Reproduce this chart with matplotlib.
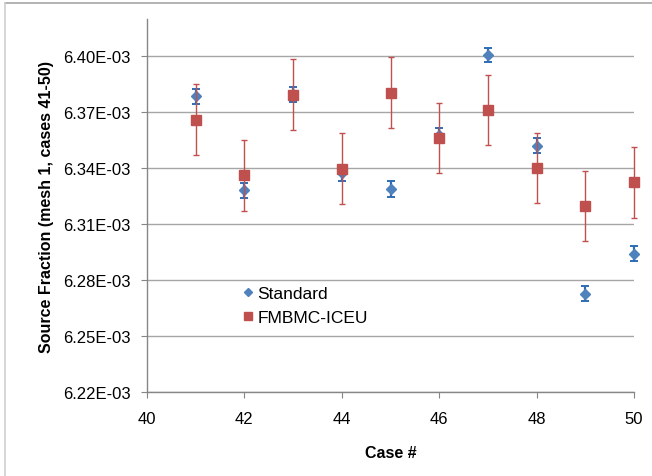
import matplotlib
matplotlib.use("Agg")
import matplotlib.pyplot as plt
from matplotlib.lines import Line2D
from matplotlib.ticker import FuncFormatter, MultipleLocator

BLUE = "#4F81BD"
BLUE_ERR = "#2E6DB4"
RED = "#C0504D"
GRID = "#A6A6A6"
AXIS = "#868686"

# data
cases = [41, 42, 43, 44, 45, 46, 47, 48, 49, 50]
standard = [6.3786e-3, 6.3282e-3, 6.3796e-3, 6.3372e-3, 6.3289e-3,
            6.3577e-3, 6.4007e-3, 6.3521e-3, 6.2727e-3, 6.2941e-3]
standard_err = [0.0041e-3, 0.0040e-3, 0.0042e-3, 0.0041e-3, 0.0041e-3,
                0.0040e-3, 0.0040e-3, 0.0041e-3, 0.0039e-3, 0.0041e-3]
fmbmc = [6.3659e-3, 6.3363e-3, 6.3794e-3, 6.3398e-3, 6.3805e-3,
         6.3562e-3, 6.3712e-3, 6.3400e-3, 6.3198e-3, 6.3325e-3]
fmbmc_err = [0.0190e-3, 0.0190e-3, 0.0191e-3, 0.0189e-3, 0.0189e-3,
             0.0189e-3, 0.0190e-3, 0.0188e-3, 0.0188e-3, 0.0190e-3]

plt.rcParams["font.family"] = ["Liberation Sans", "DejaVu Sans"]

fig = plt.figure(figsize=(6.52, 4.77), dpi=100)
ax = fig.add_axes([147 / 652, 1 - 393 / 477, 487 / 652, 373 / 477])

eb1 = ax.errorbar(cases, standard, yerr=standard_err, fmt="none", ecolor=BLUE_ERR,
                  elinewidth=1.6, capsize=3, capthick=1.4, zorder=2)
ax.plot(cases, standard, "D", color=BLUE, markersize=5, linestyle="none",
        zorder=3, clip_on=False)
eb2 = ax.errorbar(cases, fmbmc, yerr=fmbmc_err, fmt="none", ecolor=RED,
                  elinewidth=1.0, capsize=2.2, capthick=1.0, zorder=4)
ax.plot(cases, fmbmc, "s", color=RED, markersize=6.5, linestyle="none",
        zorder=5, clip_on=False)
for eb in (eb1, eb2):
    for art in eb.lines[1] + eb.lines[2]:
        art.set_clip_on(False)

ax.set_xlim(40, 50)
ax.set_ylim(6.22e-3, 6.42e-3)
ax.xaxis.set_major_locator(MultipleLocator(2))
ax.set_yticks([6.22e-3, 6.25e-3, 6.28e-3, 6.31e-3, 6.34e-3, 6.37e-3, 6.40e-3])
ax.yaxis.set_major_formatter(FuncFormatter(lambda v, p: f"{v:.2E}"))

ax.grid(axis="y", color=GRID, linewidth=1.0)
ax.set_axisbelow(True)
for s in ["top", "right"]:
    ax.spines[s].set_visible(False)
for s in ["left", "bottom"]:
    ax.spines[s].set_color(AXIS)
    ax.spines[s].set_linewidth(1.0)
ax.tick_params(axis="both", colors=AXIS, labelcolor="black", labelsize=12, length=4)
ax.tick_params(axis="x", pad=10)
ax.tick_params(axis="y", pad=8)

ax.set_xlabel("Case #", fontsize=11.5, fontweight="bold", labelpad=13)
ax.set_ylabel("Source Fraction (mesh 1, cases 41-50)", fontsize=11.5,
              fontweight="bold", labelpad=6)

handles = [Line2D([], [], marker="D", color=BLUE, markersize=4.5, linestyle="none"),
           Line2D([], [], marker="s", color=RED, markersize=6, linestyle="none")]
ax.legend(handles, ["Standard", "FMBMC-ICEU"], loc="center left",
          bbox_to_anchor=(0.163, 0.232), frameon=False, fontsize=12.5,
          handlelength=0.7, handletextpad=0.2, labelspacing=0.5)

# outer chart border (top and left only visible)
fig.add_artist(Line2D([5 / 652, 1], [1 - 4 / 477, 1 - 4 / 477], color="#A6A6A6", lw=1.2))
fig.add_artist(Line2D([5 / 652, 5 / 652], [0, 1 - 4 / 477], color="#D0D0D0", lw=1.2))

fig.savefig("out.png", dpi=100, facecolor="white")
